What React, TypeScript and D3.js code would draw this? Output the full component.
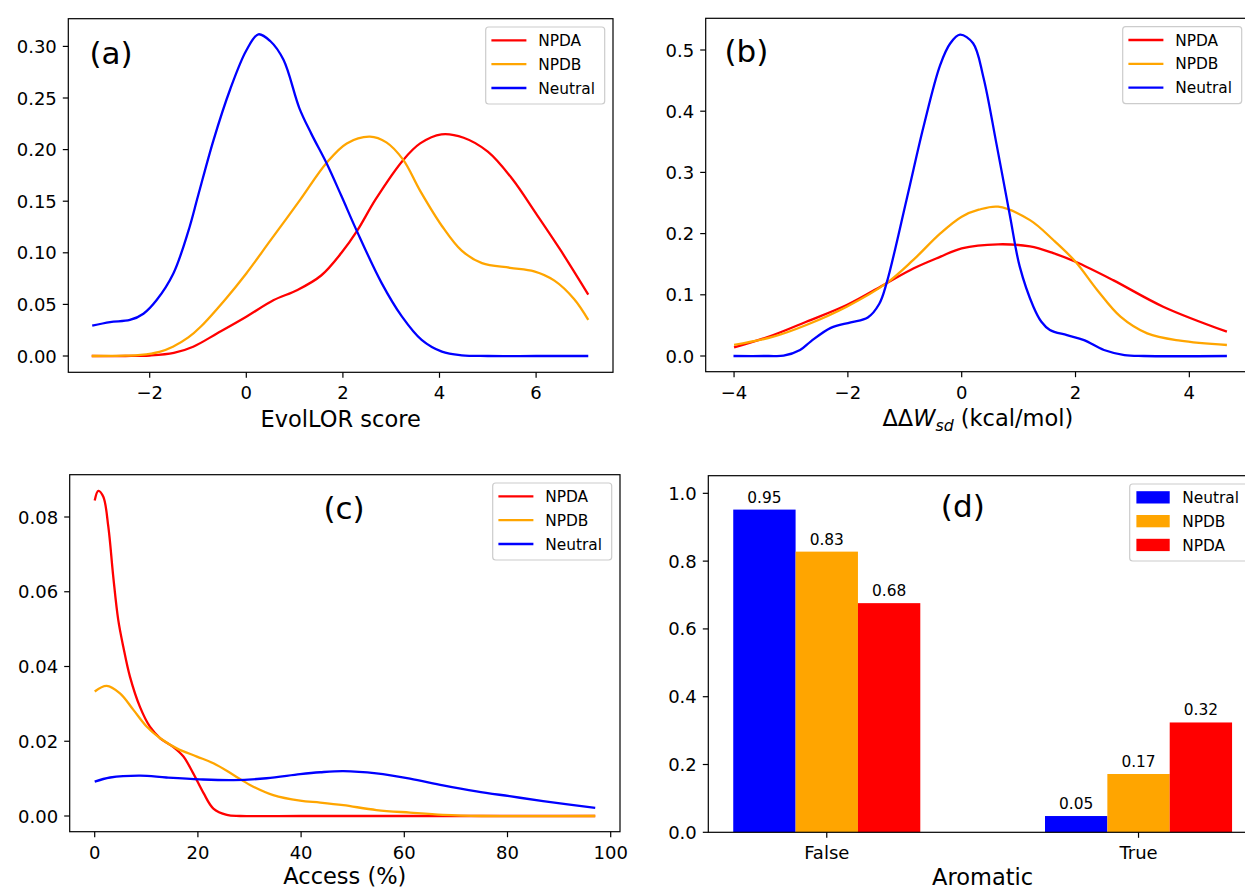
import React from 'react';
import * as d3 from 'd3';

const FONT = '"DejaVu Sans", sans-serif';
const RED = '#ff0000';
const ORANGE = '#ffa500';
const BLUE = '#0000ff';

// ---------- Panel (a): EvolLOR score densities ----------
const evolX_NPDA = [-3.2, -2.5, -2.0, -1.5, -1.1, -0.6, 0, 0.56, 1.06, 1.55, 1.97, 2.29, 2.68, 3.25, 3.6, 4.04, 4.5, 5.0, 5.5, 6.0, 6.5, 7.08];
const evolY_NPDA = [0, 0, 0.0005, 0.003, 0.009, 0.022, 0.038, 0.054, 0.064, 0.078, 0.1, 0.121, 0.152, 0.19, 0.206, 0.2148, 0.2115, 0.198, 0.172, 0.138, 0.103, 0.0595];
const evolX_NPDB = [-3.2, -2.5, -2.19, -1.8, -1.52, -1.2, -0.94, -0.44, 0, 0.5, 1.11, 1.66, 2.08, 2.56, 2.9, 3.25, 3.6, 4.05, 4.46, 4.88, 5.46, 5.96, 6.38, 6.79, 7.08];
const evolY_NPDB = [0, 0.0003, 0.001, 0.004, 0.009, 0.018, 0.0286, 0.0546, 0.08, 0.112, 0.151, 0.187, 0.206, 0.2125, 0.207, 0.19, 0.16, 0.126, 0.102, 0.09, 0.0855, 0.082, 0.073, 0.055, 0.035];
const evolX_Neutral = [-3.19, -2.82, -2.41, -2.13, -1.86, -1.51, -1.2, -1.0, -0.68, -0.337, 0, 0.25, 0.5, 0.77, 1.1, 1.35, 1.66, 1.97, 2.29, 2.8, 3.22, 3.63, 4.05, 4.46, 5.0, 6.0, 7.08];
const evolY_Neutral = [0.0294, 0.0329, 0.0349, 0.041, 0.054, 0.08, 0.121, 0.155, 0.209, 0.258, 0.296, 0.3117, 0.305, 0.287, 0.24, 0.215, 0.187, 0.155, 0.121, 0.0709, 0.0384, 0.0156, 0.0042, 0.0007, 0, 0, 0];
const evolXTicks = [-2, 0, 2, 4, 6];
const evolYTicks = [0, 0.05, 0.1, 0.15, 0.2, 0.25, 0.3];

// ---------- Panel (b): ddW_sd densities ----------
const ddwX_NPDA = [-4.0, -3.31, -2.73, -2.02, -1.32, -0.85, -0.38, 0, 0.64, 1.2, 1.61, 2.0, 2.66, 3.54, 4.66];
const ddwY_NPDA = [0.014, 0.0343, 0.056, 0.0833, 0.119, 0.143, 0.162, 0.176, 0.1825, 0.179, 0.168, 0.154, 0.124, 0.0806, 0.0397];
const ddwX_NPDB = [-4.0, -3.31, -2.73, -2.02, -1.32, -0.85, -0.38, 0, 0.3, 0.64, 1.2, 1.61, 2.0, 2.38, 2.79, 3.26, 3.84, 4.66];
const ddwY_NPDB = [0.018, 0.0316, 0.0507, 0.0806, 0.119, 0.157, 0.2, 0.2277, 0.239, 0.244, 0.222, 0.1895, 0.154, 0.108, 0.0643, 0.037, 0.025, 0.018];
const ddwX_Neutral = [-4.01, -3.4, -3.13, -2.84, -2.65, -2.3, -1.95, -1.65, -1.45, -1.32, -0.97, -0.67, -0.38, -0.2, -0.03, 0.2, 0.38, 0.61, 0.85, 1.02, 1.26, 1.4, 1.55, 1.85, 2.15, 2.5, 2.86, 3.2, 4.66];
const ddwY_Neutral = [0, 0, 0.0005, 0.0098, 0.024, 0.046, 0.055, 0.063, 0.085, 0.119, 0.255, 0.375, 0.475, 0.511, 0.525, 0.511, 0.456, 0.347, 0.228, 0.146, 0.0806, 0.056, 0.0425, 0.034, 0.026, 0.0098, 0.0016, 0, 0];
const ddwXTicks = [-4, -2, 0, 2, 4];
const ddwYTicks = [0, 0.1, 0.2, 0.3, 0.4, 0.5];

// ---------- Panel (c): Access densities ----------
const accX_NPDA = [0, 0.7, 1.67, 2.64, 3.6, 4.57, 5.54, 6.83, 8.77, 10.7, 12.7, 15.2, 17.2, 19.1, 21.1, 23.0, 25.6, 28.2, 40, 60, 80, 97];
const accY_NPDA = [0.0844, 0.087, 0.0854, 0.0774, 0.064, 0.0524, 0.0453, 0.0373, 0.0292, 0.0239, 0.0208, 0.0185, 0.0159, 0.0114, 0.0061, 0.002, 0.0003, 0, 0, 0, 0, 0];
const accX_NPDB = [0, 2.32, 4.9, 7.5, 10.1, 12.7, 15.9, 19.8, 23.0, 26.9, 30.1, 34.6, 39.8, 43.7, 48.2, 54.6, 61.1, 67.5, 75, 97];
const accY_NPDB = [0.0333, 0.0348, 0.0328, 0.0284, 0.0239, 0.0208, 0.0181, 0.0159, 0.0141, 0.011, 0.0083, 0.0056, 0.0041, 0.0036, 0.0029, 0.0016, 0.0009, 0.0003, 0, 0];
const accX_Neutral = [0, 3.0, 8.8, 13.9, 20.4, 26.9, 33.3, 39.8, 43.7, 48.2, 54.6, 61.1, 67.5, 74, 80.4, 86.9, 97];
const accY_Neutral = [0.0092, 0.0103, 0.0108, 0.0103, 0.0098, 0.0096, 0.0101, 0.0112, 0.0117, 0.012, 0.0114, 0.01, 0.0082, 0.0066, 0.0053, 0.004, 0.0022];
const accXTicks = [0, 20, 40, 60, 80, 100];
const accYTicks = [0, 0.02, 0.04, 0.06, 0.08];

// ---------- Panel (d): Aromatic fractions ----------
const aromCategories = ['False', 'True'];
const aromNeutral = [0.952, 0.048];
const aromNPDB = [0.828, 0.172];
const aromNPDA = [0.676, 0.324];
const aromYTicks = [0, 0.2, 0.4, 0.6, 0.8, 1.0];

const zip = (xs: number[], ys: number[]) => xs.map((v, i) => [v, ys[i]] as [number, number]);

type Frame = { l: number; r: number; t: number; b: number };
type Series = { name: string; color: string; pts: [number, number][] };

const TICK_FS = 18;
const LABEL_FS = 22.5;
const LEGEND_FS = 15.4;
const LETTER_FS = 31;

function Spines({ f }: { f: Frame }) {
  return (
    <rect x={f.l} y={f.t} width={f.r - f.l} height={f.b - f.t} fill="none" stroke="#000" strokeWidth={1.2} />
  );
}

function Legend({ f, items, patch }: { f: Frame; items: { name: string; color: string }[]; patch?: boolean }) {
  const w = 119;
  const h = 77;
  const x0 = f.r - 8.3 - w;
  const y0 = f.t + 8.3;
  const rows = [13.4, 37.2, 61];
  return (
    <g>
      <rect x={x0} y={y0} width={w} height={h} rx={3} ry={3} fill="#fff" fillOpacity={0.8} stroke="#cccccc" strokeWidth={1.2} />
      {items.map((it, i) => (
        <g key={it.name}>
          {patch ? (
            <rect x={x0 + 6.7} y={y0 + rows[i] - 6.2} width={33.3} height={12.3} fill={it.color} />
          ) : (
            <line x1={x0 + 5.7} x2={x0 + 40.7} y1={y0 + rows[i]} y2={y0 + rows[i]} stroke={it.color} strokeWidth={2.3} />
          )}
          <text x={x0 + 52.5} y={y0 + rows[i] + 5.6} fontSize={LEGEND_FS} fontFamily={FONT} fill="#000">
            {it.name}
          </text>
        </g>
      ))}
    </g>
  );
}

function YAxis({ f, y, ticks, fmt }: { f: Frame; y: any; ticks: number[]; fmt: (v: number) => string }) {
  return (
    <g>
      {ticks.map((t) => (
        <g key={t}>
          <line x1={f.l - 5.5} x2={f.l} y1={y(t)} y2={y(t)} stroke="#000" strokeWidth={1.2} />
          <text x={f.l - 11.5} y={y(t) + 0.365 * TICK_FS} textAnchor="end" fontSize={TICK_FS} fontFamily={FONT} fill="#000">
            {fmt(t)}
          </text>
        </g>
      ))}
    </g>
  );
}

function XAxis({ f, x, ticks, labels }: { f: Frame; x: any; ticks: number[]; labels: string[] }) {
  return (
    <g>
      {ticks.map((t, i) => (
        <g key={t}>
          <line x1={x(t)} x2={x(t)} y1={f.b} y2={f.b + 5.5} stroke="#000" strokeWidth={1.2} />
          <text x={x(t)} y={f.b + 27} textAnchor="middle" fontSize={TICK_FS} fontFamily={FONT} fill="#000">
            {labels[i]}
          </text>
        </g>
      ))}
    </g>
  );
}

function LinePanel(props: {
  id: string;
  f: Frame;
  xDomain: [number, number];
  yDomain: [number, number];
  xTicks: number[];
  yTicks: number[];
  yFmt: (v: number) => string;
  series: Series[];
  letter: { text: string; x: number; y: number; anchor: string };
  xlabel: React.ReactNode;
  labelDy: number;
}) {
  const { id, f, xDomain, yDomain, xTicks, yTicks, yFmt, series, letter, xlabel, labelDy } = props;
  const x = d3.scaleLinear().domain(xDomain).range([f.l, f.r]);
  const y = d3.scaleLinear().domain(yDomain).range([f.b, f.t]);
  const line = d3
    .line<[number, number]>()
    .x((d) => x(d[0]))
    .y((d) => y(d[1]))
    .curve(d3.curveCatmullRom.alpha(0.5));
  const xf = d3.format('d');
  return (
    <g>
      <defs>
        <clipPath id={id}>
          <rect x={f.l} y={f.t} width={f.r - f.l} height={f.b - f.t} />
        </clipPath>
      </defs>
      <g clipPath={`url(#${id})`}>
        {series.map((s) => (
          <path key={s.name} d={line(s.pts) || ''} fill="none" stroke={s.color} strokeWidth={2.3} strokeLinejoin="round" strokeLinecap="butt" />
        ))}
      </g>
      <text x={letter.x} y={letter.y} textAnchor={letter.anchor as any} fontSize={LETTER_FS} fontFamily={FONT} fill="#000">
        {letter.text}
      </text>
      <Legend f={f} items={series} />
      <Spines f={f} />
      <YAxis f={f} y={y} ticks={yTicks} fmt={yFmt} />
      <XAxis f={f} x={x} ticks={xTicks} labels={xTicks.map((t) => xf(t))} />
      <text x={(f.l + f.r) / 2} y={f.b + labelDy} textAnchor="middle" fontSize={LABEL_FS} fontFamily={FONT} fill="#000">
        {xlabel}
      </text>
    </g>
  );
}

function BarPanel() {
  const f: Frame = { l: 708.3, r: 1257, t: 475.7, b: 832.3 };
  const x = d3.scaleLinear().domain([-0.38, 1.38]).range([f.l, f.r]);
  const y = d3.scaleLinear().domain([0, 1.052]).range([f.b, f.t]);
  const bw = 0.2;
  const groups = [
    { name: 'Neutral', color: BLUE, vals: aromNeutral, off: -0.2 },
    { name: 'NPDB', color: ORANGE, vals: aromNPDB, off: 0 },
    { name: 'NPDA', color: RED, vals: aromNPDA, off: 0.2 },
  ];
  const fmt2 = d3.format('.2f');
  return (
    <g>
      <defs>
        <clipPath id="clipd">
          <rect x={f.l} y={f.t} width={f.r - f.l} height={f.b - f.t} />
        </clipPath>
      </defs>
      <g clipPath="url(#clipd)">
        {groups.map((g) =>
          g.vals.map((v, i) => (
            <rect
              key={g.name + i}
              x={x(i + g.off - bw / 2)}
              y={y(v)}
              width={x(i + g.off + bw / 2) - x(i + g.off - bw / 2)}
              height={y(0) - y(v)}
              fill={g.color}
            />
          ))
        )}
      </g>
      {groups.map((g) =>
        g.vals.map((v, i) => (
          <text key={'t' + g.name + i} x={x(i + g.off)} y={y(v) - 7} textAnchor="middle" fontSize={15.4} fontFamily={FONT} fill="#000">
            {fmt2(v)}
          </text>
        ))
      )}
      <text x={962.8} y={516.5} textAnchor="middle" fontSize={LETTER_FS} fontFamily={FONT} fill="#000">
        (d)
      </text>
      <Legend f={f} items={groups} patch />
      <Spines f={f} />
      <YAxis f={f} y={y} ticks={aromYTicks} fmt={d3.format('.1f')} />
      <XAxis f={f} x={x} ticks={[0, 1]} labels={aromCategories} />
      <text x={(f.l + f.r) / 2} y={f.b + 52.5} textAnchor="middle" fontSize={LABEL_FS} fontFamily={FONT} fill="#000">
        Aromatic
      </text>
    </g>
  );
}

export default function App() {
  const seriesA: Series[] = [
    { name: 'NPDA', color: RED, pts: zip(evolX_NPDA, evolY_NPDA) },
    { name: 'NPDB', color: ORANGE, pts: zip(evolX_NPDB, evolY_NPDB) },
    { name: 'Neutral', color: BLUE, pts: zip(evolX_Neutral, evolY_Neutral) },
  ];
  const seriesB: Series[] = [
    { name: 'NPDA', color: RED, pts: zip(ddwX_NPDA, ddwY_NPDA) },
    { name: 'NPDB', color: ORANGE, pts: zip(ddwX_NPDB, ddwY_NPDB) },
    { name: 'Neutral', color: BLUE, pts: zip(ddwX_Neutral, ddwY_Neutral) },
  ];
  const seriesC: Series[] = [
    { name: 'NPDA', color: RED, pts: zip(accX_NPDA, accY_NPDA) },
    { name: 'NPDB', color: ORANGE, pts: zip(accX_NPDB, accY_NPDB) },
    { name: 'Neutral', color: BLUE, pts: zip(accX_Neutral, accY_Neutral) },
  ];
  const fa: Frame = { l: 68.3, r: 613, t: 18.7, b: 372.3 };
  const fb: Frame = { l: 705.7, r: 1250, t: 18.3, b: 371.7 };
  const fc: Frame = { l: 69.7, r: 620, t: 474.7, b: 831.7 };
  return (
    <svg
      width={1245}
      height={890}
      viewBox="0 0 1245 890"
      style={{ position: 'absolute', left: 0, top: 0, background: '#fff' }}
      xmlns="http://www.w3.org/2000/svg"
    >
      <rect x={0} y={0} width={1245} height={890} fill="#fff" />
      <LinePanel
        id="clipa"
        f={fa}
        xDomain={[(fa.l - 246.3) / 48.3, (fa.r - 246.3) / 48.3]}
        yDomain={[-(fa.b - 356) / 1032, (356 - fa.t) / 1032]}
        xTicks={evolXTicks}
        yTicks={evolYTicks}
        yFmt={d3.format('.2f')}
        series={seriesA}
        letter={{ text: '(a)', x: 89.5, y: 64, anchor: 'start' }}
        xlabel="EvolLOR score"
        labelDy={54.7}
      />
      <LinePanel
        id="clipb"
        f={fb}
        xDomain={[(fb.l - 961.7) / 56.91, (fb.r - 961.7) / 56.91]}
        yDomain={[-(fb.b - 356) / 612, (356 - fb.t) / 612]}
        xTicks={ddwXTicks}
        yTicks={ddwYTicks}
        yFmt={d3.format('.1f')}
        series={seriesB}
        letter={{ text: '(b)', x: 724.5, y: 61.5, anchor: 'start' }}
        labelDy={54.7}
        xlabel={
          <>
            <tspan>ΔΔ</tspan>
            <tspan fontStyle="italic">W</tspan>
            <tspan fontStyle="italic" fontSize={LABEL_FS * 0.7} dy={4.5}>sd</tspan>
            <tspan dy={-4.5}> (kcal/mol)</tspan>
          </>
        }
      />
      <LinePanel
        id="clipc"
        f={fc}
        xDomain={[(fc.l - 94.7) / 5.16, (fc.r - 94.7) / 5.16]}
        yDomain={[-(fc.b - 816) / 3737.5, (816 - fc.t) / 3737.5]}
        xTicks={accXTicks}
        yTicks={accYTicks}
        yFmt={d3.format('.2f')}
        series={seriesC}
        letter={{ text: '(c)', x: 344, y: 519, anchor: 'middle' }}
        xlabel="Access (%)"
        labelDy={52.5}
      />
      <BarPanel />
    </svg>
  );
}
